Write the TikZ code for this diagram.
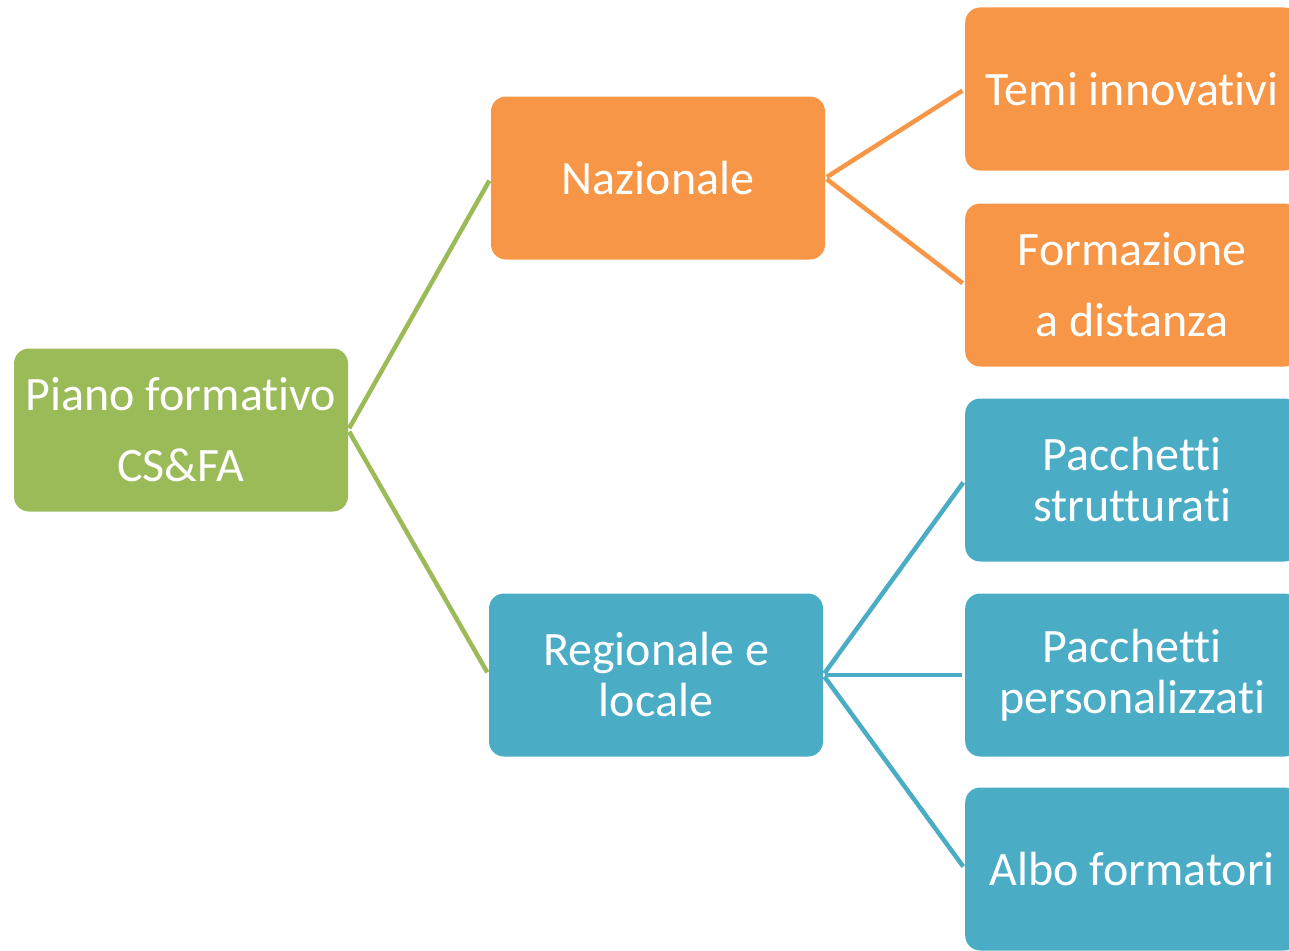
\documentclass[tikz,border=0pt]{standalone}
\usepackage{fontspec}
\setmainfont{Carlito}[RawFeature=-liga]
\usepackage{tikz}

\definecolor{leafgreen}{HTML}{9BBB59}
\definecolor{boxorange}{HTML}{F79646}
\definecolor{boxblue}{HTML}{4BACC6}

\begin{document}
\begin{tikzpicture}[x=1pt,y=-1pt,
    box/.style={rectangle,rounded corners=15pt,draw=none,text=white,align=center,
        minimum width=334pt,minimum height=163pt,inner sep=0pt,
        font=\fontsize{48}{71}\selectfont},
    tight/.style={font=\fontsize{48}{51}\selectfont},
    link/.style={line width=4.5pt,shorten >=3pt,shorten <=2pt}]
      \useasboundingbox (0,0) rectangle (1289,950);
      \clip (0,0) rectangle (1289,950);
      \node[box,fill=leafgreen] (piano) at (181,430) {Piano formativo\\CS\&FA};
      \node[box,fill=boxorange] (naz) at (658,178) {Nazionale};
      \node[box,fill=boxblue,tight] (reg) at (656,675) {Regionale e\\locale};
      \node[box,fill=boxorange,anchor=west] (temi) at (965,89) {Temi innovativi};
      \node[box,fill=boxorange,anchor=west] (fad) at (965,285) {Formazione\\a distanza};
      \node[box,fill=boxblue,anchor=west,tight] (strutt) at (965,480) {Pacchetti\\strutturati};
      \node[box,fill=boxblue,anchor=west,tight] (pers) at (965,675) {Pacchetti\\personalizzati};
      \node[box,fill=boxblue,anchor=west] (albo) at (965,869) {Albo formatori};
      \path
      (piano.east) edge [link,draw=leafgreen] (naz.west)
      (piano.east) edge [link,draw=leafgreen] (reg.west);
      \path
      (naz.east) edge [link,draw=boxorange] (temi.west)
      (naz.east) edge [link,draw=boxorange] (fad.west);
      \path
      (reg.east) edge [link,draw=boxblue] (strutt.west)
      (reg.east) edge [link,draw=boxblue] (pers.west)
      (reg.east) edge [link,draw=boxblue] (albo.west);
    \end{tikzpicture}
\end{document}
